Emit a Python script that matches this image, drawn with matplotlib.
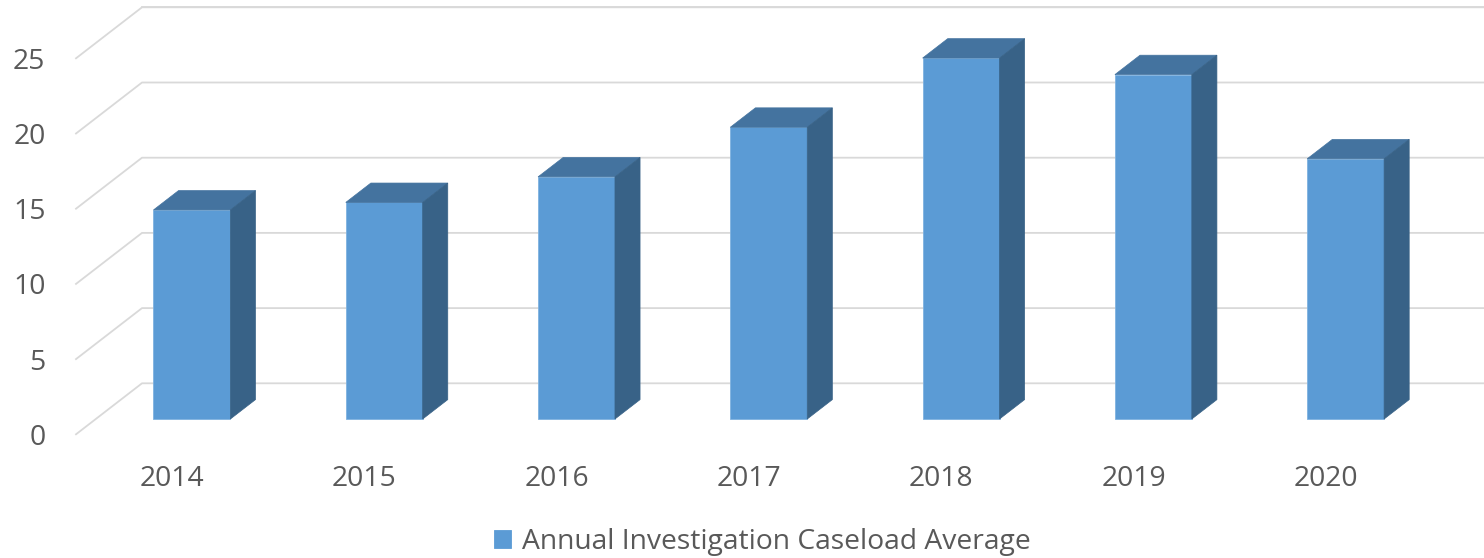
import matplotlib
matplotlib.use("Agg")
import matplotlib.pyplot as plt
from matplotlib.patches import Polygon
from matplotlib.lines import Line2D

years = ["2014", "2015", "2016", "2017", "2018", "2019", "2020"]
caseload = [13.9, 14.4, 16.1, 19.4, 24.0, 22.9, 17.3]
y_ticks = [0, 5, 10, 15, 20, 25]
series_name = "Annual Investigation Caseload Average"

FRONT = "#5B9BD5"
TOP = "#44739F"
SIDE = "#386287"
GRID = "#D9D9D9"
TEXT = "#595959"

plt.rcParams['font.family'] = ['Open Sans', 'DejaVu Sans']

W, H = 1484, 558
fig = plt.figure(figsize=(W / 100, H / 100), dpi=100)
left_px, right_px, y0_px, y25_px = 76, 1422, 434.3, 58.3
ax = fig.add_axes([left_px / W, (H - y0_px) / H,
                   (right_px - left_px) / W, (y0_px - y25_px) / H])
ax.set_xlim(-0.5, len(years) - 0.5)
ax.set_ylim(0, 25)
for s in ax.spines.values():
    s.set_visible(False)

px_x = (right_px - left_px) / len(years)
px_y = (y0_px - y25_px) / 25
dx = 66 / px_x      # full depth offset in data units
dy = 51 / px_y
f0, f1 = 0.30, 0.68
bw = 0.40

# walls / gridlines
x_left, x_right = -0.5, len(years) - 0.5
for v in y_ticks:
    ax.add_line(Line2D([x_left, x_left + dx, x_right + dx],
                       [v, v + dy, v + dy], color=GRID, lw=1.3,
                       clip_on=False, zorder=1))
ax.add_line(Line2D([x_left + dx, x_right + dx], [25 + dy, 25 + dy],
                   color=GRID, lw=1.3, clip_on=False, zorder=1))

xs = list(range(len(years)))
bars = ax.bar([x + f0 * dx for x in xs], caseload, width=bw, bottom=f0 * dy,
              color=FRONT, edgecolor="#7FB2E0", linewidth=0.6, zorder=3,
              label=series_name)
ddx = (f1 - f0) * dx
ddy = (f1 - f0) * dy
for x, v in zip(xs, caseload):
    xl = x - bw / 2 + f0 * dx
    xr = x + bw / 2 + f0 * dx
    yb = f0 * dy
    yt = f0 * dy + v
    ax.add_patch(Polygon([(xl, yt), (xr, yt), (xr + ddx, yt + ddy), (xl + ddx, yt + ddy)],
                         closed=True, facecolor=TOP, edgecolor=TOP, lw=0.5,
                         zorder=3, clip_on=False))
    ax.add_patch(Polygon([(xr, yb), (xr + ddx, yb + ddy), (xr + ddx, yt + ddy), (xr, yt)],
                         closed=True, facecolor=SIDE, edgecolor=SIDE, lw=0.5,
                         zorder=3, clip_on=False))

FS = 20.3
ax.set_xticks(xs)
ax.set_xticklabels(years)
ax.set_yticks(y_ticks)
ax.set_yticklabels([str(t) for t in y_ticks])
ax.tick_params(axis="both", length=0, labelsize=FS, colors=TEXT)
ax.tick_params(axis="x", pad=22)
ax.tick_params(axis="y", pad=22)

leg = fig.legend(handles=[bars], labels=[series_name], loc="center",
                 bbox_to_anchor=(762 / W, (H - 541.7) / H), frameon=False,
                 fontsize=FS, handlelength=0.62, handleheight=0.62,
                 handletextpad=0.38, borderpad=0, borderaxespad=0)
for t in leg.get_texts():
    t.set_color(TEXT)
for h in leg.legend_handles:
    h.set_edgecolor(FRONT)

fig.savefig("out.png", dpi=100)
